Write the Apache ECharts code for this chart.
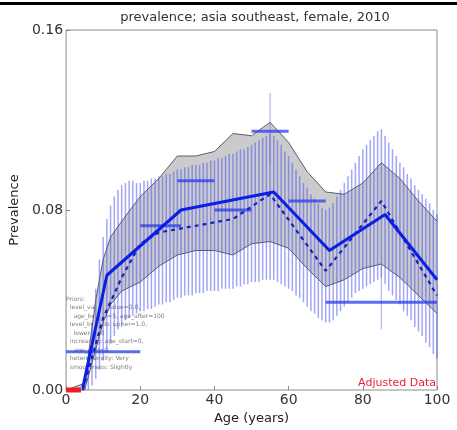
<!DOCTYPE html>
<html>
<head>
<meta charset="utf-8">
<script src="https://cdn.jsdelivr.net/npm/echarts@6/dist/echarts.min.js"></script>
<style>
  html, body { margin: 0; padding: 0; background: #fff; }
  #chart { width: 457px; height: 430px; }
</style>
</head>
<body>
<div id="chart"></div>
<script>
(function () {
    'use strict';

    var xTicks = [0, 20, 40, 60, 80, 100];
    var yTicks = [0, 0.08, 0.16];

    // posterior band (gray)
    var postAges  = [0, 5, 8, 10, 12, 15, 20, 25, 30, 35, 40, 45, 50, 55, 60, 65, 70, 75, 80, 85, 90, 95, 100];
    var postUpper = [0, 0.003, 0.040, 0.058, 0.068, 0.075, 0.086, 0.094, 0.104, 0.104, 0.106, 0.114, 0.113, 0.119, 0.110, 0.097, 0.088, 0.087, 0.092, 0.101, 0.094, 0.084, 0.075];
    var postLower = [0, 0, 0.018, 0.030, 0.038, 0.044, 0.048, 0.055, 0.060, 0.062, 0.062, 0.060, 0.065, 0.066, 0.063, 0.054, 0.046, 0.049, 0.054, 0.056, 0.050, 0.042, 0.034];

    // vertical blue hatch, one line per year of age, 5..100
    var hatchStart = 5;
    var hatchUpper = [
        0.004, 0.015, 0.030, 0.045, 0.058, 0.068, 0.076, 0.082, 0.086, 0.089,
        0.091, 0.092, 0.093, 0.093, 0.092, 0.092, 0.093, 0.093, 0.094, 0.094,
        0.095, 0.095, 0.096, 0.096, 0.097, 0.098, 0.098, 0.099, 0.099, 0.100,
        0.100, 0.100, 0.101, 0.101, 0.102, 0.102, 0.103, 0.103, 0.104, 0.105,
        0.105, 0.106, 0.107, 0.107, 0.108, 0.109, 0.110, 0.111, 0.112, 0.113,
        0.114, 0.113, 0.111, 0.109, 0.106, 0.104, 0.101, 0.098, 0.095, 0.092,
        0.090, 0.087, 0.085, 0.083, 0.081, 0.080, 0.081, 0.083, 0.086, 0.089,
        0.092, 0.095, 0.098, 0.101, 0.104, 0.107, 0.109, 0.111, 0.113, 0.115,
        0.116, 0.113, 0.110, 0.107, 0.104, 0.101, 0.099, 0.096, 0.094, 0.091,
        0.089, 0.087, 0.085, 0.083, 0.080, 0.078
    ];
    var hatchLower = [
        0.000, 0.000, 0.002, 0.005, 0.009, 0.013, 0.017, 0.021, 0.024, 0.027,
        0.029, 0.031, 0.032, 0.033, 0.034, 0.035, 0.035, 0.036, 0.036, 0.037,
        0.038, 0.038, 0.039, 0.039, 0.040, 0.041, 0.041, 0.042, 0.042, 0.042,
        0.043, 0.043, 0.043, 0.044, 0.044, 0.044, 0.044, 0.045, 0.045, 0.045,
        0.045, 0.046, 0.046, 0.047, 0.047, 0.048, 0.048, 0.048, 0.049, 0.049,
        0.049, 0.049, 0.048, 0.047, 0.046, 0.045, 0.044, 0.042, 0.041, 0.039,
        0.037, 0.035, 0.034, 0.032, 0.031, 0.030, 0.030, 0.031, 0.033, 0.035,
        0.037, 0.039, 0.041, 0.043, 0.044, 0.045, 0.046, 0.047, 0.048, 0.049,
        0.050, 0.047, 0.044, 0.042, 0.040, 0.038, 0.035, 0.033, 0.031, 0.028,
        0.026, 0.024, 0.021, 0.019, 0.016, 0.014
    ];

    // mean curves
    var meanAges   = [4.5, 11, 31, 56, 71, 86, 100];
    var meanValues = [0.001, 0.051, 0.080, 0.088, 0.062, 0.078, 0.049];
    var dashAges   = [4.5, 10, 15, 20, 25, 45, 55, 70, 85, 100];
    var dashValues = [0, 0.032, 0.050, 0.065, 0.070, 0.076, 0.087, 0.053, 0.084, 0.042];

    // data: age start, age end, value
    var dataStart = [0, 20, 30, 40, 50, 60, 70];
    var dataEnd   = [20, 31, 40, 50, 60, 70, 100];
    var dataValue = [0.017, 0.073, 0.093, 0.080, 0.115, 0.084, 0.039];
    // error bars: age, low, high
    var errAge  = [55, 85];
    var errLow  = [0.100, 0.027];
    var errHigh = [0.132, 0.056];

    // adjusted data (red)
    var adjStart = [0];
    var adjEnd   = [4];
    var adjValue = [0];

    var priorsText = [
        'Priors:',
        '  level_value: value=0.0,',
        '    age_before=5, age_after=100',
        '  level_bounds: upper=1.0,',
        '    lower=0.0',
        '  increasing: age_start=0,',
        '    age_end=0',
        '  heterogeneity: Very',
        '  smoothness: Slightly'
    ];

    var chart = echarts.init(document.getElementById('chart'));
    var font = 'DejaVu Sans';

    function zipLine(ages, vals) {
        return ages.map(function (a, i) { return [a, vals[i]]; });
    }

    var hatchData = hatchUpper.map(function (u, i) {
        return [hatchStart + i, hatchLower[i], u];
    });
    var barData = dataStart.map(function (s, i) { return [s, dataEnd[i], dataValue[i]]; });
    var adjData = adjStart.map(function (s, i) { return [s, adjEnd[i], adjValue[i]]; });
    var errData = errAge.map(function (a, i) { return [a, errLow[i], errHigh[i]]; });

    function hbar(color, width) {
        return function (params, api) {
            var p1 = api.coord([api.value(0), api.value(2)]);
            var p2 = api.coord([api.value(1), api.value(2)]);
            return {
                type: 'line',
                shape: { x1: p1[0], y1: p1[1], x2: p2[0], y2: p2[1] },
                style: { stroke: color, lineWidth: width }
            };
        };
    }

    function vbar(color, width) {
        return function (params, api) {
            var p1 = api.coord([api.value(0), api.value(1)]);
            var p2 = api.coord([api.value(0), api.value(2)]);
            return {
                type: 'line',
                shape: { x1: p1[0], y1: p1[1], x2: p2[0], y2: p2[1] },
                style: { stroke: color, lineWidth: width }
            };
        };
    }

    var graphics = [
        { type: 'rect', left: 0, top: 2, shape: { width: 457, height: 3 }, style: { fill: '#000' } },
        { type: 'text', right: 21, top: 378, style: { text: 'Adjusted Data', fill: '#e8203a', font: '11px "DejaVu Sans"' } }
    ];
    priorsText.forEach(function (t, i) {
        graphics.push({
            type: 'text', left: 66, top: 296 + i * 8.5,
            style: { text: t, fill: '#808080', font: '6px "DejaVu Sans"' }
        });
    });

    var option = {
        animation: false,
        backgroundColor: '#fff',
        title: {
            text: 'prevalence; asia southeast, female, 2010',
            left: 250, top: 6, textAlign: 'center',
            textStyle: { fontFamily: font, fontSize: 13, fontWeight: 'normal', color: '#333' }
        },
        grid: {
            left: 63, right: 20, top: 30, bottom: 38,
            show: true, borderColor: '#8c8c8c', borderWidth: 1, backgroundColor: 'transparent'
        },
        xAxis: {
            type: 'value', min: xTicks[0], max: xTicks[xTicks.length - 1], interval: 20,
            name: 'Age (years)', nameLocation: 'middle', nameGap: 22,
            nameTextStyle: { fontFamily: font, fontSize: 13, color: '#222' },
            axisLine: { show: false },
            axisTick: { inside: true, length: 4, lineStyle: { color: '#888' } },
            axisLabel: { fontFamily: font, fontSize: 14, color: '#333', margin: 3 },
            splitLine: { show: false }
        },
        yAxis: {
            type: 'value', min: yTicks[0], max: yTicks[yTicks.length - 1], interval: 0.08,
            name: 'Prevalence', nameLocation: 'middle', nameGap: 41,
            nameTextStyle: { fontFamily: font, fontSize: 13, color: '#222' },
            axisLine: { show: false },
            axisTick: { inside: true, length: 4, lineStyle: { color: '#888' } },
            axisLabel: {
                fontFamily: font, fontSize: 14, color: '#333', margin: 3,
                formatter: function (v) { return v.toFixed(2); }
            },
            splitLine: { show: false }
        },
        graphic: graphics,
        series: [
            {
                type: 'custom', z: 1, silent: true, clip: true,
                data: [[0, 0]],
                renderItem: function (params, api) {
                    var pts = [];
                    postAges.forEach(function (a, i) { pts.push(api.coord([a, postUpper[i]])); });
                    for (var i = postAges.length - 1; i >= 0; i--) {
                        pts.push(api.coord([postAges[i], postLower[i]]));
                    }
                    return { type: 'polygon', shape: { points: pts }, style: { fill: '#cbcbce' } };
                }
            },
            {
                type: 'custom', z: 3, silent: true,
                data: hatchData,
                renderItem: vbar('rgba(70,80,235,0.5)', 1.5)
            },
            {
                type: 'line', z: 2, silent: true, symbol: 'none',
                data: zipLine(postAges, postUpper),
                lineStyle: { color: '#5c5c6a', width: 1 }
            },
            {
                type: 'line', z: 2, silent: true, symbol: 'none',
                data: zipLine(postAges, postLower),
                lineStyle: { color: '#5c5c6a', width: 1 }
            },
            {
                type: 'custom', z: 4, silent: true,
                data: errData,
                renderItem: vbar('rgba(110,120,230,0.55)', 1.2)
            },
            {
                type: 'custom', z: 5, silent: true,
                data: barData,
                renderItem: hbar('rgba(40,60,235,0.75)', 3)
            },
            {
                type: 'line', z: 6, silent: true, symbol: 'none',
                data: zipLine(dashAges, dashValues),
                lineStyle: { color: '#1a22b8', width: 2.2, type: [4, 4] }
            },
            {
                type: 'line', z: 7, silent: true, symbol: 'none',
                data: zipLine(meanAges, meanValues),
                lineStyle: { color: '#0a1ee6', width: 3 }
            },
            {
                type: 'custom', z: 8, silent: true, clip: false,
                data: adjData,
                renderItem: hbar('#ee1c25', 5)
            }
        ]
    };

    chart.setOption(option);
})();
</script>
</body>
</html>
